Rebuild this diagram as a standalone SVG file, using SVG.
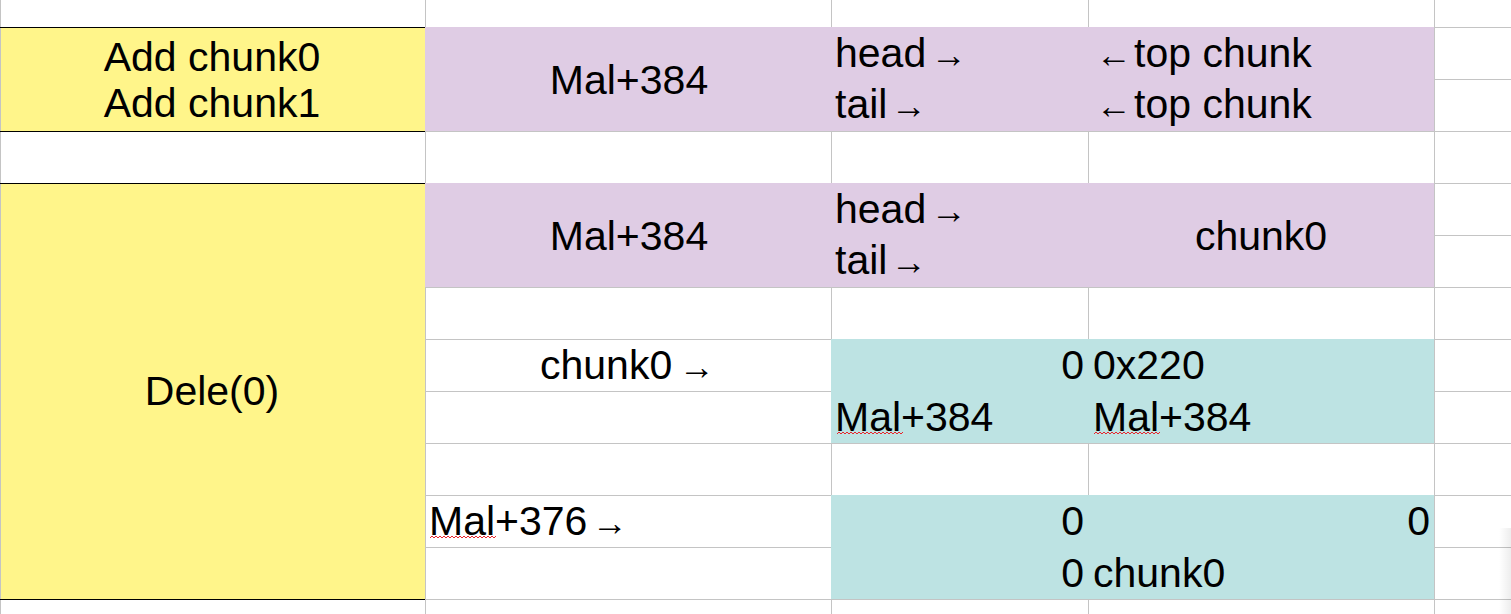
<svg xmlns="http://www.w3.org/2000/svg" width="1511" height="614" viewBox="0 0 1511 614">
<style>
.t{font-family:"Liberation Sans",Arial,sans-serif;font-size:41px;fill:#000}
.c{text-anchor:middle}
.e{text-anchor:end}
.ar{font-size:36px}
.g{stroke:#c4c4c4;stroke-width:1;fill:none}
.b{stroke:#000;stroke-width:1.2;fill:none}
.sq{stroke:#e8242b;stroke-width:1;fill:none}
</style>
<defs>
<path id="squig" d="M0 2 l2 -2 l2 2 l2 -2 l2 2 l2 -2 l2 2 l2 -2 l2 2 l2 -2 l2 2 l2 -2 l2 2 l2 -2 l2 2 l2 -2 l2 2 l2 -2 l2 2 l2 -2 l2 2 l2 -2 l2 2 l2 -2 l2 2 l2 -2 l2 2 l2 -2 l2 2 l2 -2 l2 2 l2 -2 l2 2 l2 -2"/>
<linearGradient id="shade" x1="0" y1="0" x2="1" y2="0">
<stop offset="0" stop-color="#000" stop-opacity="0"/>
<stop offset="1" stop-color="#000" stop-opacity="0.07"/>
</linearGradient>
</defs>
<rect width="1511" height="614" fill="#fff"/>
<g id="grid">
<path class="g" d="M0 27.5H1511M0 79.5H1511M0 131.5H1511M0 183.5H1511M0 235.5H1511M0 287.5H1511M0 339.5H1511M0 391.5H1511M0 443.5H1511M0 495.5H1511M0 547.5H1511M0 599.5H1511"/>
<path class="g" d="M425.5 0V614M831.5 0V614M1088.5 0V614M1434.5 0V614"/>
</g>
<g id="fills">
<rect x="0" y="27" width="425" height="104" fill="#fff58a"/>
<rect x="0" y="183" width="425" height="416" fill="#fff58a"/>
<rect x="425" y="27" width="1009" height="104" fill="#dfcce4"/>
<rect x="425" y="183" width="1009" height="104" fill="#dfcce4"/>
<rect x="831" y="339" width="603" height="104" fill="#bde3e3"/>
<rect x="831" y="495" width="603" height="104" fill="#bde3e3"/>
<rect x="1499" y="528" width="12" height="86" fill="url(#shade)"/>
</g>
<g id="borders">
<path class="g" d="M0.5 0V614"/>
<path class="b" d="M0 27.5H425M0 131.5H425M0 183.5H425M0 599.5H425"/>
</g>
<g id="add-chunks">
<text class="t c" x="212" y="71">Add chunk0</text>
<text class="t c" x="212" y="117">Add chunk1</text>
</g>
<g id="mal384-a">
<text class="t c" x="629" y="94">Mal+384</text>
</g>
<g id="head-tail-a">
<text class="t" x="835" y="67">head<tspan class="ar" x="931">→</tspan></text>
<text class="t" x="835" y="118">tail<tspan class="ar" x="891">→</tspan></text>
</g>
<g id="top-chunk">
<text class="t" y="67"><tspan class="ar" x="1096">←</tspan><tspan x="1134">top chunk</tspan></text>
<text class="t" y="118"><tspan class="ar" x="1096">←</tspan><tspan x="1134">top chunk</tspan></text>
</g>
<g id="dele">
<text class="t c" x="212" y="405">Dele(0)</text>
</g>
<g id="mal384-b">
<text class="t c" x="629" y="250">Mal+384</text>
</g>
<g id="head-tail-b">
<text class="t" x="835" y="223">head<tspan class="ar" x="931">→</tspan></text>
<text class="t" x="835" y="274">tail<tspan class="ar" x="891">→</tspan></text>
</g>
<g id="chunk0-a">
<text class="t c" x="1261" y="250">chunk0</text>
</g>
<g id="chunk0-ptr">
<text class="t" x="540" y="379">chunk0<tspan class="ar" x="679">→</tspan></text>
</g>
<g id="chunk0-body">
<text class="t e" x="1084" y="379">0</text>
<text class="t" x="1093" y="379">0x220</text>
<text class="t" x="835" y="431">Mal+384</text>
<text class="t" x="1093" y="431">Mal+384</text>
<use href="#squig" class="sq" x="837" y="432"/>
<use href="#squig" class="sq" x="1094" y="432"/>
</g>
<g id="mal376-ptr">
<text class="t" x="429" y="535">Mal+376<tspan class="ar" x="592">→</tspan></text>
<use href="#squig" class="sq" x="430" y="536"/>
</g>
<g id="mal376-body">
<text class="t e" x="1084" y="535">0</text>
<text class="t e" x="1430" y="535">0</text>
<text class="t e" x="1084" y="587">0</text>
<text class="t" x="1093" y="587">chunk0</text>
</g>
</svg>
